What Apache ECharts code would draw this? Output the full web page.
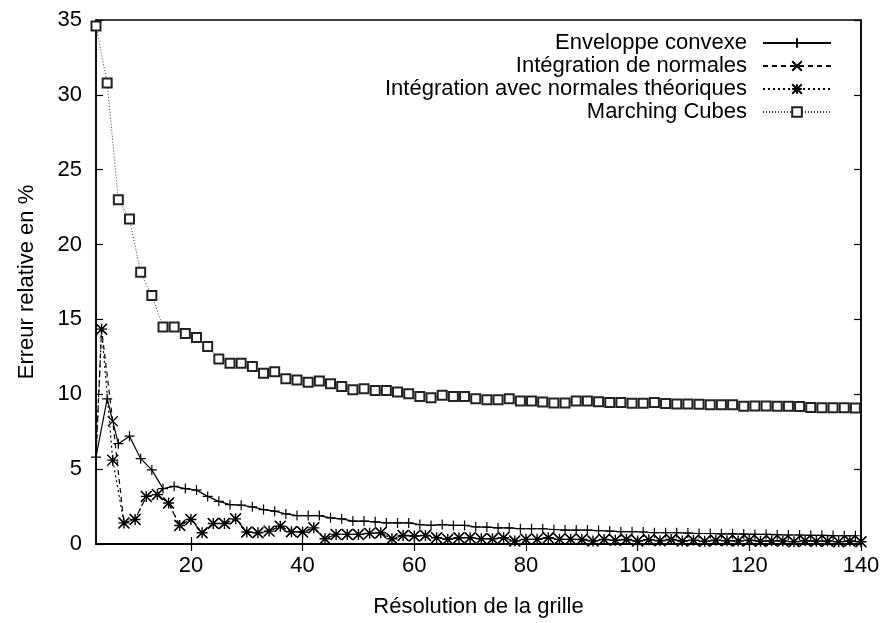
<!DOCTYPE html>
<html><head><meta charset="utf-8">
<script src="https://cdn.jsdelivr.net/npm/echarts@6/dist/echarts.min.js"></script>
<style>html,body{margin:0;padding:0;background:#fff}#c{width:883px;height:623px}</style>
</head><body><div id="c"></div>
<script>
const seriesNames = ['Enveloppe convexe','Intégration de normales','Intégration avec normales théoriques','Marching Cubes'];
const xTicks = [20,40,60,80,100,120,140];
const yTicks = [0,5,10,15,20,25,30,35];

const xOdd = [3,5,7,9,11,13,15,17,19,21,23,25,27,29,31,33,35,37,39,41,43,45,47,49,51,53,55,57,59,61,63,65,67,69,71,73,75,77,79,81,83,85,87,89,91,93,95,97,99,101,103,105,107,109,111,113,115,117,119,121,123,125,127,129,131,133,135,137,139];
const xInteg = [3,4,6,8,10,12,14,16,18,20,22,24,26,28,30,32,34,36,38,40,42,44,46,48,50,52,54,56,58,60,62,64,66,68,70,72,74,76,78,80,82,84,86,88,90,92,94,96,98,100,102,104,106,108,110,112,114,116,118,120,122,124,126,128,130,132,134,136,138,140];

const enveloppe = [5.8,9.7,6.7,7.2,5.7,4.95,3.7,3.85,3.7,3.6,3.18,2.85,2.63,2.59,2.48,2.3,2.19,2.01,1.9,1.9,1.9,1.75,1.68,1.53,1.53,1.48,1.41,1.41,1.41,1.3,1.24,1.3,1.24,1.24,1.15,1.13,1.08,1.08,1.02,1.02,1.02,0.97,0.93,0.93,0.93,0.9,0.86,0.82,0.82,0.8,0.75,0.75,0.75,0.73,0.7,0.7,0.68,0.68,0.66,0.64,0.64,0.62,0.6,0.6,0.58,0.58,0.56,0.55,0.55];
const normales = [5.8,14.35,8.2,1.41,1.64,3.18,3.3,2.74,1.24,1.64,0.75,1.37,1.37,1.68,0.8,0.75,0.86,1.19,0.82,0.8,1.08,0.35,0.64,0.64,0.64,0.71,0.75,0.35,0.57,0.53,0.57,0.42,0.31,0.42,0.42,0.35,0.35,0.42,0.2,0.31,0.31,0.42,0.31,0.31,0.3,0.2,0.3,0.25,0.3,0.2,0.28,0.22,0.3,0.2,0.25,0.18,0.25,0.22,0.2,0.25,0.18,0.22,0.2,0.15,0.22,0.18,0.2,0.15,0.2,0.15];
const theoriques = [5.8,14.35,5.6,1.41,1.64,3.18,3.3,2.74,1.24,1.64,0.75,1.37,1.37,1.68,0.8,0.75,0.86,1.19,0.82,0.8,1.08,0.35,0.64,0.64,0.64,0.71,0.75,0.35,0.57,0.53,0.57,0.42,0.31,0.42,0.42,0.35,0.35,0.42,0.2,0.31,0.31,0.42,0.31,0.31,0.3,0.2,0.3,0.25,0.3,0.2,0.28,0.22,0.3,0.2,0.25,0.18,0.25,0.22,0.2,0.25,0.18,0.22,0.2,0.15,0.22,0.18,0.2,0.15,0.2,0.15];
const marching = [34.6,30.8,23.0,21.7,18.15,16.6,14.5,14.5,14.06,13.8,13.2,12.35,12.07,12.07,11.85,11.4,11.5,11.03,10.96,10.81,10.88,10.7,10.52,10.3,10.37,10.26,10.26,10.15,10.04,9.86,9.77,9.93,9.86,9.86,9.7,9.64,9.64,9.7,9.55,9.55,9.48,9.42,9.42,9.55,9.55,9.5,9.45,9.45,9.4,9.4,9.45,9.38,9.35,9.35,9.33,9.3,9.3,9.3,9.2,9.22,9.22,9.2,9.2,9.18,9.12,9.1,9.1,9.1,9.08];

function pairs(xs, ys){ return ys.map((v,i)=>[xs[i], v]); }
function pairsNoFirstMark(xs, ys){ return ys.map((v,i)=> i===0 ? {value:[xs[i], v], symbol:'none'} : [xs[i], v]); }

const FONT = 'Liberation Sans, Arial, sans-serif';
const FS = 22;
const symPlus = 'path://M0,5L10,5M5,0L5,10';
const symCross = 'path://M0,0L10,10M10,0L0,10';
const symStar = 'path://M0,0L10,10M10,0L0,10M5,0L5,10M0,5L10,5';

const chart = echarts.init(document.getElementById('c'), null, {renderer:'canvas'});

const axisCommon = {
  axisLine:{show:true, lineStyle:{color:'#000', width:1.5}},
  splitLine:{show:false},
  axisTick:{show:true, inside:true, length:7, lineStyle:{color:'#000', width:1.2}}
};

function mkLegend(i, top){
  return {
    data:[seriesNames[i]], orient:'vertical', right:51, top:top,
    align:'right', itemWidth:68, itemHeight:12, padding:0,
    textStyle:{fontFamily:FONT, fontSize:FS, color:'#000', padding:[0,11,0,0]},
    selectedMode:false
  };
}

chart.setOption({
  animation:false,
  backgroundColor:'#fff',
  grid:{left:96, right:22, top:20, bottom:75, show:true, borderColor:'#000', borderWidth:1.5, containLabel:false},
  legend:[mkLegend(0,32), mkLegend(1,55), mkLegend(2,78), mkLegend(3,101)],
  xAxis:[
    Object.assign({}, axisCommon, {
      type:'value', min:3, max:140, position:'bottom',
      name:'Résolution de la grille', nameLocation:'middle', nameGap:52,
      nameTextStyle:{fontFamily:FONT, fontSize:FS, color:'#000'},
      axisTick:{show:true, inside:true, length:7, customValues:xTicks, lineStyle:{color:'#000', width:1.2}},
      axisLabel:{customValues:xTicks, fontFamily:FONT, fontSize:FS, color:'#000', margin:11}
    }),
    Object.assign({}, axisCommon, {
      type:'value', min:3, max:140, position:'top',
      axisTick:{show:true, inside:true, length:7, customValues:xTicks, lineStyle:{color:'#000', width:1.2}},
      axisLabel:{show:false, customValues:xTicks}
    })
  ],
  yAxis:[
    Object.assign({}, axisCommon, {
      type:'value', min:0, max:35, interval:5, position:'left',
      name:'Erreur relative en %', nameLocation:'middle', nameGap:58, nameRotate:90,
      nameTextStyle:{fontFamily:FONT, fontSize:FS, color:'#000'},
      axisLabel:{fontFamily:FONT, fontSize:FS, color:'#000', margin:14}
    }),
    Object.assign({}, axisCommon, {
      type:'value', min:0, max:35, interval:5, position:'right',
      axisLabel:{show:false}
    })
  ],
  series:[
    {name:seriesNames[0], type:'line', data:pairs(xOdd, enveloppe), symbol:symPlus, symbolSize:10,
     lineStyle:{color:'#000', width:1.2, type:'solid'},
     itemStyle:{color:'#000', borderColor:'#000', borderWidth:1.2}, clip:true, z:4},
    {name:seriesNames[1], type:'line', data:pairsNoFirstMark(xInteg, normales), symbol:symCross, symbolSize:10,
     lineStyle:{color:'#000', width:1.2, type:[5,4]},
     itemStyle:{color:'#000', borderColor:'#000', borderWidth:1.2}, clip:true, z:3},
    {name:seriesNames[2], type:'line', data:pairsNoFirstMark(xInteg, theoriques), symbol:symStar, symbolSize:11,
     lineStyle:{color:'#000', width:1.2, type:[2,3]},
     itemStyle:{color:'#000', borderColor:'#000', borderWidth:1.4}, clip:true, z:3},
    {name:seriesNames[3], type:'line', data:pairs(xOdd, marching), symbol:'emptyRect', symbolSize:9,
     lineStyle:{color:'#333', width:1, type:[1,2]},
     itemStyle:{color:'#222', borderColor:'#222', borderWidth:1.3}, clip:true, z:2}
  ]
});
</script></body></html>
